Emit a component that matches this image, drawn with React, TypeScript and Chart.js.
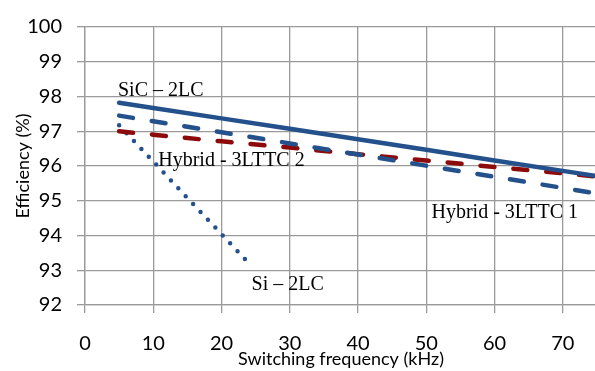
import React, { useEffect, useRef } from "react";
import { Chart, registerables } from "chart.js";

Chart.register(...registerables);

// ---- data ----
const sicFreq = [5, 10, 20, 30, 40, 50, 60, 70, 80];
const sicEff = [97.82, 97.67, 97.37, 97.07, 96.77, 96.47, 96.16, 95.86, 95.56];

const hyb1Freq = [5, 10, 20, 30, 40, 50, 60, 70, 80];
const hyb1Eff = [97.45, 97.29, 96.97, 96.65, 96.33, 96.01, 95.69, 95.37, 95.05];

const hyb2Freq = [5, 10, 20, 30, 40, 50, 60, 70, 80];
const hyb2Eff = [97.0, 96.9, 96.71, 96.53, 96.34, 96.16, 95.97, 95.79, 95.6];

const siFreq = [5, 10, 15, 20, 24.2];
const siEff = [97.17, 96.13, 95.08, 94.04, 93.16];

const seriesNames = ["SiC – 2LC", "Hybrid - 3LTTC 1", "Hybrid - 3LTTC 2", "Si – 2LC"];

const xTickLabels = ["0", "10", "20", "30", "40", "50", "60", "70"];

const xTitle = "Switching frequency (kHz)";
const yTitle = "Efficiency (%)";

// label anchors (data coordinates, left/baseline)
const labelFreq = [4.83, 50.77, 10.73, 24.41];
const labelEff = [98.02, 94.51, 96.0, 92.43];

const BLUE = "#24508c";
const RED = "#8c0a0a";
const GRID = "#9a9a9a";

const pts = (xs: number[], ys: number[]) => xs.map((x, i) => ({ x, y: ys[i] }));

const textPlugin = {
  id: "texts",
  afterDraw(chart: any) {
    const ctx = chart.ctx;
    const xs = chart.scales.x;
    const ys = chart.scales.y;
    ctx.save();
    ctx.fillStyle = "#000";
    ctx.font = "20px 'Liberation Serif', 'Times New Roman', serif";
    ctx.textAlign = "left";
    ctx.textBaseline = "alphabetic";
    seriesNames.forEach((name, i) => {
      ctx.fillText(name, xs.getPixelForValue(labelFreq[i]), ys.getPixelForValue(labelEff[i]));
    });
    ctx.font = "18px Lato, sans-serif";
    ctx.textAlign = "center";
    ctx.textBaseline = "alphabetic";
    ctx.fillText(xTitle, 341, 365);
    ctx.translate(29, (chart.chartArea.top + chart.chartArea.bottom) / 2);
    ctx.rotate(-Math.PI / 2);
    ctx.fillText(yTitle, 0, 0);
    ctx.restore();
  },
};

export default function App() {
  const ref = useRef<HTMLCanvasElement>(null);

  useEffect(() => {
    if (!ref.current) return;
    const chart = new Chart(ref.current, {
      type: "line",
      data: {
        datasets: [
          {
            label: seriesNames[0],
            data: pts(sicFreq, sicEff),
            borderColor: BLUE,
            borderWidth: 4.5,
            borderCapStyle: "round",
            pointRadius: 0,
          },
          {
            label: seriesNames[1],
            data: pts(hyb1Freq, hyb1Eff),
            borderColor: BLUE,
            borderWidth: 4.5,
            borderCapStyle: "round",
            borderDash: [14, 19],
            pointRadius: 0,
          },
          {
            label: seriesNames[2],
            data: pts(hyb2Freq, hyb2Eff),
            borderColor: RED,
            borderWidth: 4.5,
            borderCapStyle: "round",
            borderDash: [14, 19],
            pointRadius: 0,
          },
          {
            label: seriesNames[3],
            data: pts(siFreq, siEff),
            borderColor: BLUE,
            borderWidth: 4.5,
            borderCapStyle: "round",
            borderDash: [0, 10.8],
            pointRadius: 0,
          },
        ],
      },
      options: {
        animation: false,
        responsive: false,
        devicePixelRatio: 1,
        layout: { padding: { top: 15, left: 0, right: 18.7, bottom: 0 } },
        plugins: { legend: { display: false }, tooltip: { enabled: false } },
        scales: {
          x: {
            type: "linear",
            min: 0,
            max: 80,
            afterFit: (s: any) => {
              s.height = 66;
            },
            ticks: {
              stepSize: 10,
              padding: 19,
              color: "#000",
              font: { family: "Lato", size: 20 },
              maxRotation: 0,
              callback: (_v: any, i: number) => xTickLabels[i] ?? "",
            },
            grid: { color: GRID, lineWidth: 1.3, tickLength: 8 },
            border: { color: GRID, width: 1.3 },
          },
          y: {
            min: 92,
            max: 100,
            afterFit: (s: any) => {
              s.width = 85;
            },
            ticks: {
              stepSize: 1,
              padding: 15,
              color: "#000",
              font: { family: "Lato", size: 20 },
            },
            grid: { color: GRID, lineWidth: 1.3, tickLength: 8 },
            border: { color: GRID, width: 1.3 },
          },
        },
      },
      plugins: [textPlugin],
    });
    return () => chart.destroy();
  }, []);

  return (
    <div
      style={{
        position: "fixed",
        left: 0,
        top: 0,
        width: 595,
        height: 371,
        overflow: "hidden",
        background: "#fff",
      }}
    >
      <canvas ref={ref} width={650} height={371} style={{ display: "block" }} />
    </div>
  );
}
